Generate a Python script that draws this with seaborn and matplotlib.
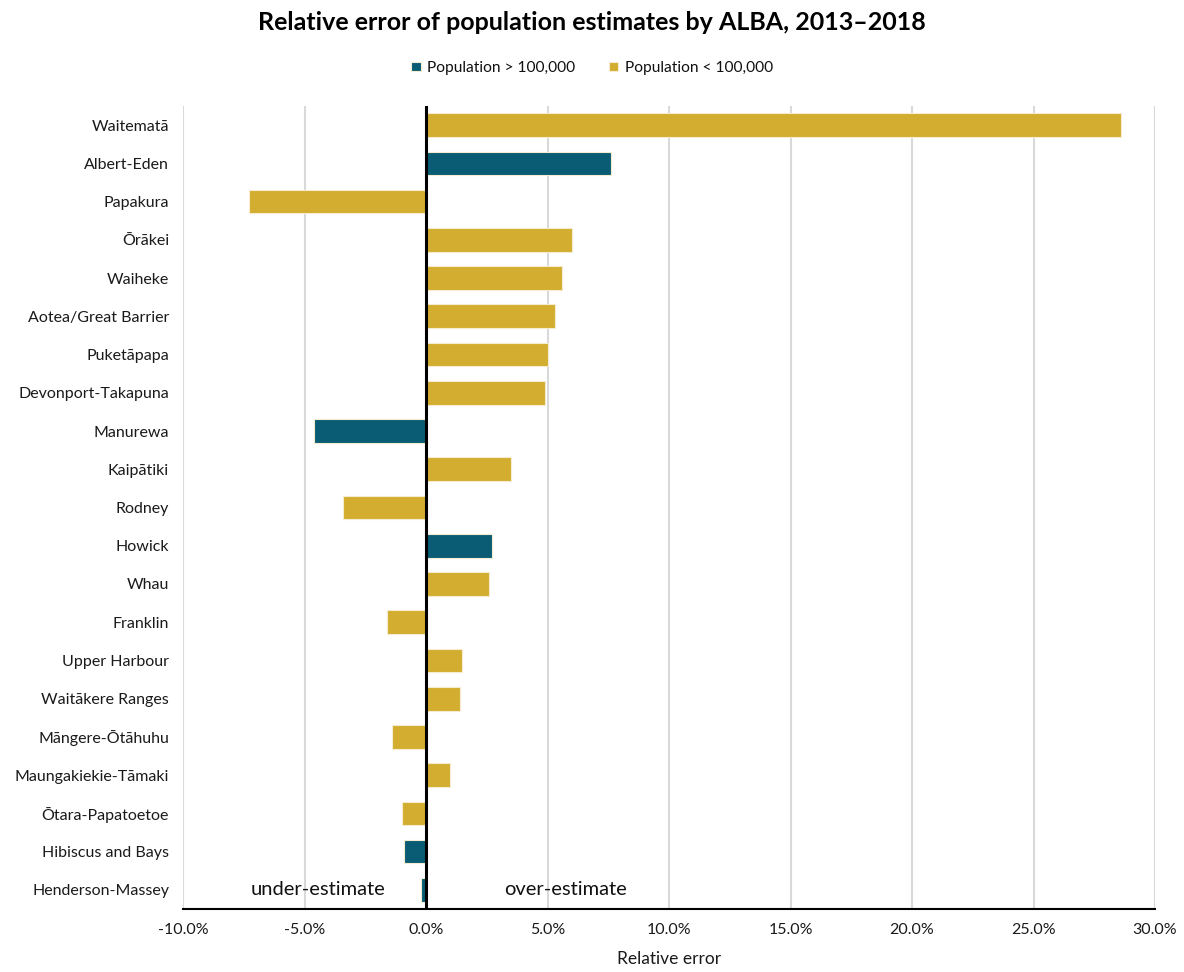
import matplotlib
matplotlib.use("Agg")
import matplotlib.pyplot as plt
import matplotlib.ticker as mticker
import seaborn as sns
import pandas as pd

# Local board areas, ordered by relative error (largest first)
boards = [
    "Waitematā", "Albert-Eden", "Papakura", "Ōrākei", "Waiheke",
    "Aotea/Great Barrier", "Puketāpapa", "Devonport-Takapuna", "Manurewa",
    "Kaipātiki", "Rodney", "Howick", "Whau", "Franklin", "Upper Harbour",
    "Waitākere Ranges", "Māngere-Ōtāhuhu", "Maungakiekie-Tāmaki",
    "Ōtara-Papatoetoe", "Hibiscus and Bays", "Henderson-Massey",
]
# Relative error of the ALBA estimate, in percent
rel_error = [
    28.6, 7.6, -7.3, 6.0, 5.6,
    5.3, 5.0, 4.9, -4.6,
    3.5, -3.4, 2.7, 2.6, -1.6, 1.5,
    1.4, -1.4, 1.0,
    -1.0, -0.9, -0.2,
]
size_group = [
    "small", "large", "small", "small", "small",
    "small", "small", "small", "large",
    "small", "small", "large", "small", "small", "small",
    "small", "small", "small",
    "small", "large", "large",
]
group_labels = {"large": "Population > 100,000", "small": "Population < 100,000"}
group_colors = {"Population > 100,000": "#0a5c75", "Population < 100,000": "#d3ad2f"}

df = pd.DataFrame({
    "board": boards,
    "error": rel_error,
    "group": [group_labels[g] for g in size_group],
})

sns.set_theme(style="white")
plt.rcParams["font.family"] = ["Lato", "DejaVu Sans"]
plt.rcParams["text.color"] = "#111111"

fig = plt.figure(figsize=(11.84, 9.72), dpi=100)
ax = fig.add_axes([183 / 1184, 1 - 909 / 972, (1155 - 183) / 1184, (909 - 106) / 972])

sns.barplot(
    data=df, y="board", x="error", hue="group", order=boards,
    hue_order=["Population > 100,000", "Population < 100,000"],
    palette=group_colors, saturation=1, dodge=False, width=0.62, orient="h",
    edgecolor="#f3ecd0", linewidth=0.8, ax=ax, legend=True,
)

ax.set_xlim(-10, 30)
ax.xaxis.set_major_locator(mticker.MultipleLocator(5))
ax.xaxis.set_major_formatter(mticker.FuncFormatter(lambda v, p: f"{v:.1f}%"))
ax.grid(axis="x", color="#d9d9d9", linewidth=1.5, zorder=0)
ax.set_axisbelow(True)
ax.axvline(0, color="black", linewidth=2.2, zorder=5)

for side in ("top", "right", "left"):
    ax.spines[side].set_visible(False)
ax.spines["bottom"].set_color("black")
ax.spines["bottom"].set_linewidth(1.5)

ax.tick_params(axis="y", length=0, labelsize=11.5, pad=10, labelcolor="#1a1a1a")
ax.tick_params(axis="x", length=0, labelsize=11.5, pad=10, labelcolor="#1a1a1a")
ax.set_ylabel("")
ax.set_xlabel("Relative error", fontsize=12.5, color="#1a1a1a", labelpad=10)

ax.text(-4.45, 20, "under-estimate", fontsize=14.5, ha="center", va="center", color="#111111")
ax.text(5.75, 20, "over-estimate", fontsize=14.5, ha="center", va="center", color="#111111")

handles, labels = ax.get_legend_handles_labels()
ax.legend_.remove()
fig.legend(
    handles, labels, loc="center", bbox_to_anchor=(0.5, 1 - 68 / 972),
    ncol=2, frameon=False, fontsize=11.2, handlelength=0.6, handleheight=0.6,
    columnspacing=2.2, handletextpad=0.4,
)

fig.suptitle("Relative error of population estimates by ALBA, 2013–2018",
             x=0.5, y=1 - 22 / 972, va="center", fontsize=18, fontweight="bold",
             color="black")

fig.savefig("out.png", dpi=100, facecolor="white")
